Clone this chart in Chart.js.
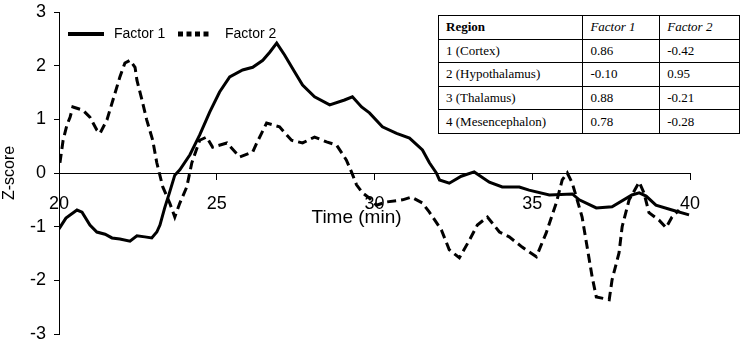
<!DOCTYPE html>
<html>
<head>
<meta charset="utf-8">
<script src="https://cdn.jsdelivr.net/npm/chart.js@4"></script>
<style>
  html, body { margin: 0; padding: 0; background: #fff; }
  #wrap { position: relative; width: 743px; height: 345px; }
  #factorTable {
    position: absolute; left: 438px; top: 15px; width: 302px;
    border-collapse: collapse; background: #fff;
    font-family: "Liberation Serif", "Times New Roman", serif; font-size: 13px; color: #000;
  }
  #factorTable td { border: 1px solid #000; height: 22.6px; padding: 0 0 0 7px; }
</style>
</head>
<body>
<div id="wrap">
  <canvas id="zChart" width="743" height="345"></canvas>
  <table id="factorTable"></table>
</div>
<script>
// Factor 1 (solid)
const f1Time = [20.0,20.22,20.57,20.73,20.98,21.2,21.46,21.68,21.93,22.25,22.47,22.72,22.94,23.1,23.2,23.35,23.5,23.67,23.83,24.15,24.46,24.78,25.09,25.41,25.82,26.14,26.46,26.68,26.9,27.15,27.47,27.72,28.1,28.58,29.05,29.3,29.59,29.84,30.25,30.7,31.11,31.52,31.74,31.96,32.06,32.37,32.75,33.16,33.64,34.05,34.59,34.9,35.54,36.27,36.49,37.03,37.53,38.16,38.39,38.61,38.92,39.43,39.97];
const f1Z = [-1.04,-0.84,-0.69,-0.73,-0.97,-1.10,-1.14,-1.21,-1.23,-1.27,-1.17,-1.19,-1.21,-1.10,-0.97,-0.65,-0.37,-0.04,0.06,0.34,0.71,1.14,1.51,1.79,1.92,1.97,2.10,2.25,2.42,2.20,1.88,1.64,1.42,1.27,1.36,1.42,1.23,1.12,0.86,0.74,0.65,0.43,0.19,0.00,-0.13,-0.19,-0.06,0.02,-0.17,-0.26,-0.26,-0.32,-0.41,-0.39,-0.50,-0.65,-0.63,-0.41,-0.37,-0.43,-0.60,-0.69,-0.78];

// Factor 2 (dashed)
const f2Time = [20.03,20.13,20.25,20.35,20.44,20.76,20.98,21.2,21.3,21.52,21.71,21.93,22.09,22.25,22.41,22.47,22.63,22.78,22.97,23.1,23.29,23.51,23.67,23.83,24.05,24.21,24.46,24.68,24.87,25.32,25.73,26.14,26.27,26.42,26.58,26.99,27.37,27.72,28.1,28.48,28.8,29.11,29.27,29.43,29.62,29.84,30.06,30.38,30.89,31.17,31.52,31.74,32.12,32.37,32.69,33.01,33.26,33.58,33.96,34.27,34.68,35.13,35.44,35.76,35.95,36.11,36.27,36.58,36.74,36.9,37.03,37.44,37.53,37.75,37.85,38.07,38.39,38.54,38.7,39.02,39.24,39.43,39.65];
const f2Z = [0.19,0.61,0.89,1.04,1.23,1.17,1.04,0.80,0.74,0.99,1.36,1.79,2.05,2.10,1.97,1.73,1.36,0.99,0.61,0.19,-0.26,-0.56,-0.82,-0.56,-0.26,0.19,0.61,0.67,0.48,0.56,0.30,0.39,0.56,0.74,0.93,0.86,0.61,0.56,0.67,0.58,0.52,0.24,0.02,-0.22,-0.37,-0.47,-0.60,-0.54,-0.50,-0.45,-0.56,-0.73,-1.06,-1.43,-1.58,-1.25,-0.97,-0.82,-1.10,-1.19,-1.38,-1.56,-1.12,-0.56,-0.13,0.00,-0.19,-0.82,-1.38,-1.94,-2.31,-2.36,-1.99,-1.49,-1.00,-0.50,-0.17,-0.37,-0.74,-0.88,-1.02,-0.82,-0.69];

const seriesNames = ['Factor 1', 'Factor 2'];
const xTicks = [20, 25, 30, 35, 40];
const yTicks = [-3, -2, -1, 0, 1, 2, 3];

// loadings table
const tableHeader = ['Region', 'Factor 1', 'Factor 2'];
const regions = ['1 (Cortex)', '2 (Hypothalamus)', '3 (Thalamus)', '4 (Mesencephalon)'];
const load1 = ['0.86', '-0.10', '0.88', '0.78'];
const load2 = ['-0.42', '0.95', '-0.21', '-0.28'];

// table (html)
const tbl = document.getElementById('factorTable');
const colW = [138, 70, 73];
let html = '<tr>' + tableHeader.map((h, i) =>
    `<td style="width:${colW[i]}px;${i === 0 ? 'font-weight:bold' : 'font-style:italic'}">${h}</td>`).join('') + '</tr>';
regions.forEach((r, i) => {
    html += `<tr><td>${r}</td><td>${load1[i]}</td><td>${load2[i]}</td></tr>`;
});
tbl.innerHTML = html;

const toPts = (xs, ys) => xs.map((x, i) => ({x: x, y: ys[i]}));
const font = 'Arial, "Liberation Sans", sans-serif';

// 범례 + x축 제목 직접 그리기
const decorations = {
    id: 'decorations',
    afterDraw(chart) {
        const c = chart.ctx;
        const {left, top} = chart.chartArea;
        c.save();
        c.strokeStyle = '#000';
        c.fillStyle = '#000';
        c.textBaseline = 'middle';
        c.font = '14px ' + font;
        const ly = top + 22;
        // Factor 1 sample
        c.lineWidth = 4;
        c.setLineDash([]);
        c.beginPath(); c.moveTo(left + 9, ly); c.lineTo(left + 45, ly); c.stroke();
        c.fillText(seriesNames[0], left + 55, ly);
        // Factor 2 sample
        c.lineWidth = 5;
        c.setLineDash([5, 3.5]);
        c.beginPath(); c.moveTo(left + 119, ly); c.lineTo(left + 151, ly); c.stroke();
        c.setLineDash([]);
        c.fillText(seriesNames[1], left + 166, ly);
        // x title
        c.font = '19px ' + font;
        c.textAlign = 'center';
        const y0 = chart.scales.y.getPixelForValue(0);
        c.fillText('Time (min)', chart.scales.x.getPixelForValue(29.43), y0 + 45);
        c.restore();
    },
};

new Chart(document.getElementById('zChart').getContext('2d'), {
    type: 'line',
    data: {
        datasets: [
            {
                label: seriesNames[0],
                data: toPts(f1Time, f1Z),
                borderColor: '#000',
                borderWidth: 3,
                pointRadius: 0,
                tension: 0,
            },
            {
                label: seriesNames[1],
                data: toPts(f2Time, f2Z),
                borderColor: '#000',
                borderWidth: 3,
                borderDash: [9, 5],
                pointRadius: 0,
                tension: 0,
            },
        ],
    },
    options: {
        responsive: false,
        animation: false,
        layout: {padding: {top: 12, right: 53, bottom: 11, left: 0}},
        plugins: {
            tooltip: {enabled: false},
            legend: {display: false},
        },
        scales: {
            x: {
                type: 'linear',
                position: {y: 0},
                min: 20,
                max: 40,
                afterBuildTicks: (s) => { s.ticks = xTicks.map(v => ({value: v})); },
                ticks: {color: '#000', font: {family: font, size: 18}, padding: 14},
                grid: {drawOnChartArea: false, drawTicks: true, tickLength: 6, color: '#000'},
                border: {display: true, color: '#000', width: 1},
            },
            y: {
                min: -3,
                max: 3,
                afterBuildTicks: (s) => { s.ticks = yTicks.map(v => ({value: v})); },
                afterFit: (s) => { s.width = 59; s.paddingTop = 0; s.paddingBottom = 0; },
                ticks: {color: '#000', font: {family: font, size: 18}, padding: 8},
                grid: {drawOnChartArea: false, drawTicks: true, tickLength: 5, color: '#000'},
                border: {display: true, color: '#000', width: 1},
                title: {display: true, text: 'Z-score', color: '#000', font: {family: font, size: 16}, padding: {top: 0, bottom: 0}},
            },
        },
    },
    plugins: [decorations],
});
</script>
</body>
</html>
